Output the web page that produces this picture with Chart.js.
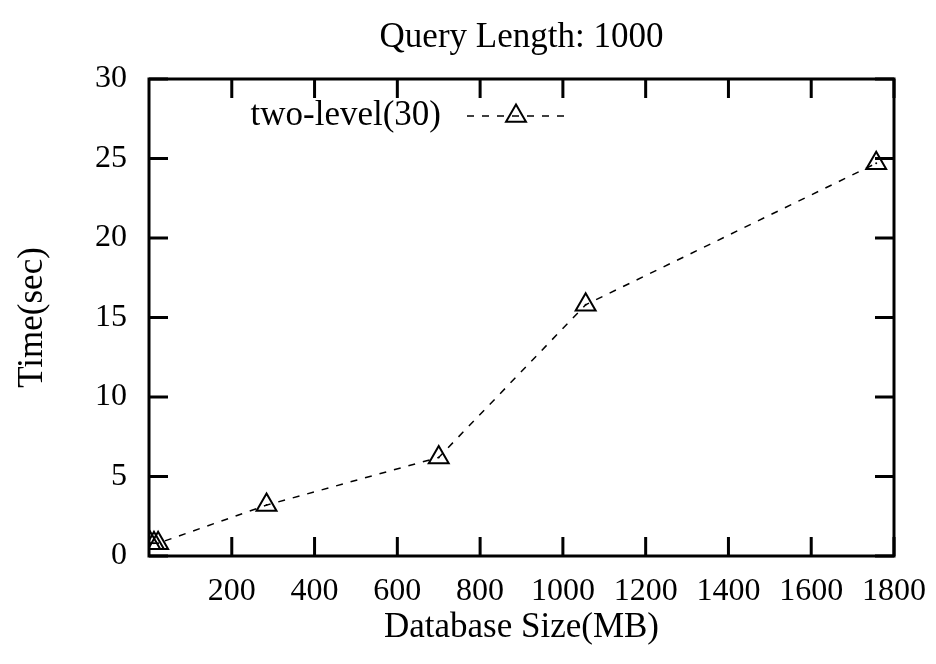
<!DOCTYPE html>
<html>
<head>
<meta charset="utf-8">
<script src="https://cdn.jsdelivr.net/npm/chart.js@4"></script>
<style>
  html, body { margin: 0; padding: 0; background: #fff; }
  #wrap { width: 936px; height: 664px; }
</style>
</head>
<body>
<div id="wrap"><canvas id="chart" width="936" height="664"></canvas></div>
<script>
// Datos
const sizesMB = [3, 12, 22, 284, 700, 1055, 1757];
const timesSec = [0.8, 0.8, 0.8, 3.2, 6.2, 15.8, 24.7];
const xTicks = [200, 400, 600, 800, 1000, 1200, 1400, 1600, 1800];
const yTicks = [0, 5, 10, 15, 20, 25, 30];
const seriesLabel = 'two-level(30)';
const chartTitle = 'Query Length: 1000';
const xTitle = 'Database Size(MB)';
const yTitle = 'Time(sec)';

const FONT = "'Liberation Serif', 'DejaVu Serif', serif";
const TITLE_FONT = '35px ' + FONT;
const points = sizesMB.map((x, i) => ({ x, y: timesSec[i] }));

// ticks hacia dentro, marco, titulos y leyenda al estilo gnuplot
const gnuplotFrame = {
  id: 'gnuplotFrame',
  afterDraw(chart) {
    const { ctx, chartArea: a, scales } = chart;
    const len = 19;
    const midX = (a.left + a.right) / 2;
    ctx.save();
    ctx.strokeStyle = '#000';
    ctx.lineWidth = 3;
    ctx.beginPath();
    xTicks.forEach(v => {
      const px = scales.x.getPixelForValue(v);
      ctx.moveTo(px, a.bottom); ctx.lineTo(px, a.bottom - len);
      ctx.moveTo(px, a.top); ctx.lineTo(px, a.top + len);
    });
    yTicks.forEach(v => {
      const py = scales.y.getPixelForValue(v);
      ctx.moveTo(a.left, py); ctx.lineTo(a.left + len, py);
      ctx.moveTo(a.right, py); ctx.lineTo(a.right - len, py);
    });
    ctx.stroke();
    ctx.strokeRect(a.left, a.top, a.right - a.left, a.bottom - a.top);

    // titulos
    ctx.fillStyle = '#000';
    ctx.font = TITLE_FONT;
    ctx.textAlign = 'center';
    ctx.textBaseline = 'middle';
    ctx.fillText(chartTitle, midX, 38);
    ctx.fillText(xTitle, midX, 628);
    ctx.save();
    ctx.translate(33, (a.top + a.bottom) / 2);
    ctx.rotate(-Math.PI / 2);
    ctx.fillText(yTitle, 0, 0);
    ctx.restore();

    // leyenda
    const ly = a.top + 37;
    ctx.textAlign = 'right';
    ctx.fillText(seriesLabel, a.left + 292, ly);
    ctx.lineWidth = 1.5;
    ctx.setLineDash([7, 8]);
    ctx.beginPath();
    ctx.moveTo(a.left + 318, ly);
    ctx.lineTo(a.left + 420, ly);
    ctx.stroke();
    ctx.setLineDash([]);
    ctx.lineWidth = 2;
    const cx = a.left + 367, r = 11.5;
    ctx.beginPath();
    ctx.moveTo(cx, ly - r);
    ctx.lineTo(cx + r * 0.866, ly + r * 0.5);
    ctx.lineTo(cx - r * 0.866, ly + r * 0.5);
    ctx.closePath();
    ctx.stroke();
    ctx.restore();
  }
};

new Chart(document.getElementById('chart'), {
  type: 'scatter',
  data: {
    datasets: [
      {
        label: seriesLabel,
        data: points,
        showLine: true,
        borderColor: '#000',
        borderWidth: 1.5,
        borderDash: [7, 8],
        pointStyle: 'triangle',
        pointRadius: 11.5,
        pointBorderWidth: 2,
        pointBorderColor: '#000',
        pointBackgroundColor: 'rgba(0,0,0,0)'
      },
      {
        label: 'centro',
        data: points,
        showLine: false,
        pointStyle: 'circle',
        pointRadius: 1,
        pointBorderWidth: 0,
        pointBackgroundColor: '#000'
      }
    ]
  },
  options: {
    responsive: false,
    animation: false,
    layout: { padding: { left: 0, right: 42, top: 79, bottom: 0 } },
    plugins: {
      legend: { display: false },
      tooltip: { enabled: false },
      title: { display: false }
    },
    scales: {
      x: {
        type: 'linear',
        min: 0,
        max: 1800,
        afterBuildTicks(scale) { scale.ticks = xTicks.map(v => ({ value: v })); },
        afterFit(scale) { scale.height = 108; },
        grid: { display: false },
        border: { display: false },
        ticks: {
          color: '#000',
          font: { family: FONT, size: 32 },
          padding: 8,
          maxRotation: 0,
          callback: v => String(v)
        }
      },
      y: {
        min: 0,
        max: 30,
        afterBuildTicks(scale) { scale.ticks = yTicks.map(v => ({ value: v })); },
        afterFit(scale) { scale.width = 149; },
        grid: { display: false },
        border: { display: false },
        ticks: {
          color: '#000',
          font: { family: FONT, size: 32 },
          padding: 14,
          callback: v => String(v)
        }
      }
    }
  },
  plugins: [gnuplotFrame]
});
</script>
</body>
</html>
